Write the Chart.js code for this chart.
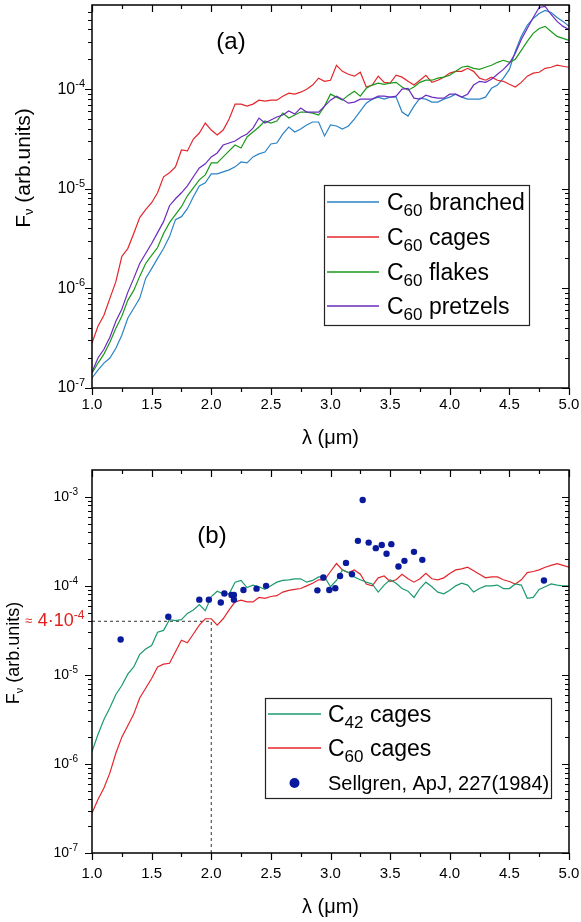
<!DOCTYPE html>
<html>
<head>
<meta charset="utf-8">
<title>Fv spectra</title>
<script src="https://cdn.jsdelivr.net/npm/chart.js@4.4.1/dist/chart.umd.min.js"></script>
<style>
  html, body { margin: 0; padding: 0; background: #fff; }
  #top { position: relative; width: 581px; height: 460px; }
  #bottom { position: relative; width: 581px; height: 462px; }
</style>
</head>
<body>
<div id="top"><canvas id="panelA"></canvas></div>
<div id="bottom"><canvas id="panelB"></canvas></div>
<script>
// wavelength grid (um)
var lam = [1.00,1.05,1.10,1.15,1.20,1.25,1.30,1.35,1.40,1.45,
  1.50,1.55,1.60,1.65,1.70,1.75,1.80,1.85,1.90,1.95,
  2.00,2.05,2.10,2.15,2.20,2.25,2.30,2.35,2.40,2.45,
  2.50,2.55,2.60,2.65,2.70,2.75,2.80,2.85,2.90,2.95,
  3.00,3.05,3.10,3.15,3.20,3.25,3.30,3.35,3.40,3.45,
  3.50,3.55,3.60,3.65,3.70,3.75,3.80,3.85,3.90,3.95,
  4.00,4.05,4.10,4.15,4.20,4.25,4.30,4.35,4.40,4.45,
  4.50,4.55,4.60,4.65,4.70,4.75,4.80,4.85,4.90,4.95,
  5.00];

// panel (a)
var branched = [1.26e-7,1.51e-7,1.78e-7,2.00e-7,2.51e-7,3.39e-7,5.01e-7,6.31e-7,7.94e-7,1.26e-6,
  1.58e-6,2.00e-6,2.51e-6,3.31e-6,4.90e-6,5.25e-6,6.31e-6,8.32e-6,1.07e-5,1.15e-5,
  1.41e-5,1.41e-5,1.48e-5,1.55e-5,1.66e-5,1.86e-5,1.82e-5,2.09e-5,2.24e-5,2.34e-5,
  2.82e-5,2.88e-5,3.55e-5,4.17e-5,3.72e-5,3.98e-5,4.37e-5,4.68e-5,4.68e-5,3.39e-5,
  4.37e-5,4.27e-5,3.98e-5,4.27e-5,5.01e-5,6.03e-5,7.24e-5,7.94e-5,8.32e-5,7.94e-5,
  8.32e-5,8.32e-5,5.89e-5,5.37e-5,6.76e-5,8.13e-5,7.94e-5,7.41e-5,7.41e-5,7.94e-5,
  8.32e-5,8.91e-5,8.32e-5,7.94e-5,7.94e-5,7.94e-5,8.32e-5,1.02e-4,1.10e-4,1.29e-4,
  1.58e-4,2.40e-4,3.39e-4,4.37e-4,5.13e-4,5.75e-4,6.17e-4,5.89e-4,5.25e-4,4.79e-4,
  4.27e-4];

var cagesA = [2.82e-7,4.17e-7,5.37e-7,7.94e-7,1.17e-6,2.09e-6,2.51e-6,3.55e-6,5.13e-6,6.17e-6,
  7.24e-6,9.12e-6,1.32e-5,1.45e-5,1.66e-5,2.45e-5,2.40e-5,3.16e-5,3.63e-5,4.57e-5,
  3.89e-5,3.47e-5,3.89e-5,5.01e-5,7.08e-5,7.08e-5,6.76e-5,7.08e-5,7.76e-5,7.59e-5,
  7.76e-5,7.76e-5,8.51e-5,9.12e-5,8.91e-5,9.33e-5,1.00e-4,1.10e-4,1.29e-4,1.20e-4,
  1.23e-4,1.74e-4,1.51e-4,1.41e-4,1.35e-4,1.48e-4,1.05e-4,1.10e-4,1.35e-4,1.17e-4,
  1.15e-4,1.38e-4,1.32e-4,1.20e-4,1.10e-4,1.23e-4,1.38e-4,1.17e-4,1.23e-4,1.32e-4,
  1.45e-4,1.51e-4,1.51e-4,1.62e-4,1.51e-4,1.29e-4,1.23e-4,1.32e-4,1.23e-4,1.20e-4,
  1.12e-4,1.05e-4,1.17e-4,1.35e-4,1.45e-4,1.48e-4,1.62e-4,1.66e-4,1.74e-4,1.70e-4,
  1.66e-4];

var flakes = [1.41e-7,1.78e-7,2.19e-7,2.88e-7,3.98e-7,5.25e-7,7.59e-7,9.55e-7,1.32e-6,1.78e-6,
  2.14e-6,2.57e-6,3.55e-6,4.57e-6,5.50e-6,6.61e-6,8.51e-6,1.02e-5,1.23e-5,1.38e-5,
  1.82e-5,1.82e-5,2.09e-5,2.40e-5,2.75e-5,2.57e-5,3.31e-5,3.72e-5,4.17e-5,4.79e-5,
  4.57e-5,4.79e-5,5.75e-5,5.13e-5,5.50e-5,5.89e-5,5.89e-5,5.75e-5,5.50e-5,6.76e-5,
  8.91e-5,8.32e-5,7.76e-5,8.71e-5,9.55e-5,8.51e-5,1.02e-4,1.10e-4,1.15e-4,1.12e-4,
  1.15e-4,1.17e-4,1.05e-4,9.77e-5,1.05e-4,1.17e-4,1.23e-4,1.23e-4,1.29e-4,1.32e-4,
  1.38e-4,1.51e-4,1.66e-4,1.70e-4,1.62e-4,1.58e-4,1.66e-4,1.74e-4,1.86e-4,1.95e-4,
  1.86e-4,2.00e-4,2.45e-4,3.02e-4,3.63e-4,4.07e-4,4.27e-4,3.80e-4,3.39e-4,3.24e-4,
  3.09e-4];

var pretzels = [1.45e-7,2.00e-7,2.45e-7,3.24e-7,4.68e-7,6.17e-7,9.12e-7,1.26e-6,1.78e-6,2.24e-6,
  2.82e-6,3.63e-6,4.68e-6,6.76e-6,7.94e-6,9.12e-6,1.07e-5,1.32e-5,1.62e-5,1.78e-5,
  2.09e-5,2.29e-5,2.75e-5,2.88e-5,3.02e-5,3.31e-5,3.55e-5,4.07e-5,5.13e-5,4.57e-5,
  4.90e-5,5.25e-5,5.50e-5,6.03e-5,5.62e-5,6.46e-5,5.89e-5,5.89e-5,5.89e-5,6.76e-5,
  7.76e-5,8.51e-5,7.94e-5,7.24e-5,7.41e-5,7.94e-5,7.94e-5,7.94e-5,8.51e-5,8.51e-5,
  8.32e-5,8.51e-5,1.00e-4,1.02e-4,8.13e-5,7.94e-5,8.71e-5,8.32e-5,8.13e-5,8.13e-5,
  8.91e-5,8.91e-5,8.32e-5,8.91e-5,1.10e-4,1.20e-4,1.17e-4,1.26e-4,1.41e-4,1.58e-4,
  1.82e-4,2.29e-4,3.16e-4,4.07e-4,5.25e-4,6.61e-4,6.76e-4,5.62e-4,4.79e-4,4.27e-4,
  3.98e-4];

// panel (b)
var c42cages = [1.38e-6,2.14e-6,3.16e-6,4.27e-6,6.03e-6,7.59e-6,1.02e-5,1.23e-5,1.70e-5,1.95e-5,
  2.14e-5,3.02e-5,3.16e-5,4.17e-5,4.07e-5,4.17e-5,4.90e-5,5.37e-5,6.17e-5,5.25e-5,
  7.59e-5,8.71e-5,8.13e-5,8.13e-5,1.10e-4,1.15e-4,9.55e-5,1.02e-4,9.77e-5,9.12e-5,
  1.00e-4,1.10e-4,1.15e-4,1.17e-4,1.20e-4,1.20e-4,1.10e-4,1.15e-4,1.26e-4,1.26e-4,
  9.77e-5,1.15e-4,1.51e-4,1.41e-4,1.26e-4,1.17e-4,1.10e-4,1.05e-4,8.51e-5,1.02e-4,
  1.17e-4,1.07e-4,9.33e-5,8.71e-5,7.41e-5,9.33e-5,1.10e-4,9.77e-5,8.51e-5,8.13e-5,
  8.91e-5,1.00e-4,1.07e-4,1.02e-4,8.51e-5,9.33e-5,1.00e-4,1.00e-4,1.02e-4,9.33e-5,
  9.33e-5,1.05e-4,1.02e-4,7.24e-5,7.41e-5,9.12e-5,9.77e-5,1.05e-4,1.02e-4,1.00e-4,
  1.00e-4];

var cagesB = [2.82e-7,3.98e-7,5.37e-7,7.94e-7,1.32e-6,2.00e-6,2.69e-6,3.63e-6,5.50e-6,7.08e-6,
  9.12e-6,1.23e-5,1.32e-5,1.35e-5,1.82e-5,2.45e-5,2.29e-5,2.88e-5,3.63e-5,4.27e-5,
  4.27e-5,3.63e-5,4.27e-5,5.37e-5,6.61e-5,6.92e-5,6.61e-5,6.61e-5,7.41e-5,7.24e-5,
  7.59e-5,7.76e-5,8.51e-5,8.91e-5,9.12e-5,9.33e-5,1.00e-4,1.07e-4,1.17e-4,1.17e-4,
  1.45e-4,1.78e-4,1.51e-4,1.41e-4,1.51e-4,1.35e-4,1.05e-4,1.00e-4,1.23e-4,1.29e-4,
  1.12e-4,1.17e-4,1.35e-4,1.20e-4,1.10e-4,1.20e-4,1.38e-4,1.20e-4,1.17e-4,1.23e-4,
  1.38e-4,1.51e-4,1.55e-4,1.62e-4,1.48e-4,1.35e-4,1.23e-4,1.26e-4,1.26e-4,1.17e-4,
  1.12e-4,1.05e-4,1.17e-4,1.41e-4,1.45e-4,1.51e-4,1.62e-4,1.70e-4,1.78e-4,1.70e-4,
  1.62e-4];

// Sellgren, ApJ 1984 points
var sellX = [1.24,1.64,1.90,1.98,2.08,2.11,2.17,2.19,2.19,2.27,2.38,2.46,
  2.89,2.94,2.99,3.04,3.08,3.13,3.18,3.23,3.27,3.32,3.38,3.43,3.47,3.51,
  3.57,3.62,3.70,3.77,4.79];
var sellY = [2.5e-5,4.5e-5,7.0e-5,7.0e-5,6.5e-5,8.2e-5,7.9e-5,7.9e-5,7.0e-5,9.0e-5,9.3e-5,1.0e-4,
  8.9e-5,1.24e-4,9.0e-5,9.4e-5,1.29e-4,1.81e-4,1.35e-4,3.2e-4,9.2e-4,3.06e-4,2.65e-4,2.88e-4,2.29e-4,2.94e-4,
  1.65e-4,1.91e-4,2.41e-4,1.96e-4,1.15e-4];

// dotted guide at 2 um / 4e-5
var guideX = [1.0, 2.0, 2.0];
var guideY = [4e-5, 4e-5, 1e-7];

// axis ticks
var xTickLabels = ['1.0','1.5','2.0','2.5','3.0','3.5','4.0','4.5','5.0'];
var xMinorTicks = [1.25,1.75,2.25,2.75,3.25,3.75,4.25,4.75];
var decadesA = [-7,-6,-5,-4];
var decadesB = [-7,-6,-5,-4,-3];

var FONT = '"Liberation Sans", Arial, Helvetica, sans-serif';

function pts(xv, yv) {
  return xv.map(function(x, i) { return {x: x, y: yv[i]}; });
}

function drawPow(ctx, exp, xRight, y, size, supSize) {
  ctx.font = supSize + 'px ' + FONT;
  var we = ctx.measureText(exp).width;
  ctx.font = size + 'px ' + FONT;
  var wm = ctx.measureText('10').width;
  ctx.textAlign = 'left';
  ctx.textBaseline = 'middle';
  ctx.fillText('10', xRight - we - wm, y);
  ctx.font = supSize + 'px ' + FONT;
  ctx.fillText(exp, xRight - we, y - size * 0.33);
}

// "C60 cages" -> C, subscript 60, rest
function drawSubLabel(ctx, text, x, y, size, subSize) {
  var m = text.match(/^C(\d+)(.*)$/);
  ctx.textAlign = 'left';
  ctx.textBaseline = 'alphabetic';
  var base = y + size * 0.36;
  if (!m) {
    ctx.font = subSize + 'px ' + FONT;
    ctx.fillText(text, x, y + subSize * 0.36);
    return;
  }
  ctx.font = size + 'px ' + FONT;
  ctx.fillText('C', x, base);
  x += ctx.measureText('C').width;
  ctx.font = subSize + 'px ' + FONT;
  ctx.fillText(m[1], x, base + subSize * 0.35);
  x += ctx.measureText(m[1]).width;
  ctx.font = size + 'px ' + FONT;
  ctx.fillText(m[2], x, base);
}

var frameAxes = {
  id: 'frameAxes',
  afterDraw: function(chart, args, o) {
    var ctx = chart.ctx, a = chart.chartArea;
    var xs = chart.scales.x, ys = chart.scales.y;
    ctx.save();
    ctx.strokeStyle = '#000';
    ctx.fillStyle = '#000';

    // ticks
    ctx.lineWidth = 1.2;
    ctx.beginPath();
    xMinorTicks.forEach(function(v) {
      var p = Math.round(xs.getPixelForValue(v)) + 0.5;
      ctx.moveTo(p, a.bottom); ctx.lineTo(p, a.bottom + 4);
      ctx.moveTo(p, a.top); ctx.lineTo(p, a.top + 4);
    });
    xTickLabels.forEach(function(t) {
      var p = Math.round(xs.getPixelForValue(parseFloat(t))) + 0.5;
      ctx.moveTo(p, a.bottom); ctx.lineTo(p, a.bottom + 7);
      ctx.moveTo(p, a.top); ctx.lineTo(p, a.top + 7);
    });
    o.decades.forEach(function(d) {
      var p = Math.round(ys.getPixelForValue(Math.pow(10, d))) + 0.5;
      ctx.moveTo(a.left - 7, p); ctx.lineTo(a.left, p);
      ctx.moveTo(a.right - 7, p); ctx.lineTo(a.right, p);
      for (var m = 2; m <= 9; m++) {
        var v = m * Math.pow(10, d);
        if (v >= ys.max) break;
        var q = Math.round(ys.getPixelForValue(v)) + 0.5;
        ctx.moveTo(a.left - 4, q); ctx.lineTo(a.left, q);
        ctx.moveTo(a.right - 4, q); ctx.lineTo(a.right, q);
      }
    });
    ctx.stroke();

    // frame
    ctx.lineWidth = 1.5;
    ctx.strokeRect(a.left, a.top, a.right - a.left, a.bottom - a.top);

    // tick labels
    ctx.font = '15px ' + FONT;
    ctx.textAlign = 'center';
    ctx.textBaseline = 'middle';
    xTickLabels.forEach(function(t) {
      ctx.fillText(t, xs.getPixelForValue(parseFloat(t)), o.xLabelY);
    });
    o.decades.forEach(function(d) {
      drawPow(ctx, String(d), o.labelRight, ys.getPixelForValue(Math.pow(10, d)), o.labelFont, o.supFont);
    });

    // axis titles
    ctx.font = '20px ' + FONT;
    ctx.textAlign = 'center';
    ctx.textBaseline = 'middle';
    ctx.fillText('\u03bb (\u03bcm)', (a.left + a.right) / 2, o.xTitleY);

    ctx.save();
    ctx.translate(o.yTitleX, o.yTitleY);
    ctx.rotate(-Math.PI / 2);
    var fs = o.yTitleFont, ss = Math.round(fs * 0.6);
    ctx.font = fs + 'px ' + FONT;
    var w1 = ctx.measureText('F').width, w3 = ctx.measureText(' (arb.units)').width;
    ctx.font = ss + 'px ' + FONT;
    var w2 = ctx.measureText('\u03bd').width;
    var x0 = -(w1 + w2 + w3) / 2;
    ctx.textAlign = 'left';
    ctx.textBaseline = 'alphabetic';
    var base = fs * 0.36;
    ctx.font = fs + 'px ' + FONT;
    ctx.fillText('F', x0, base);
    ctx.font = ss + 'px ' + FONT;
    ctx.fillText('\u03bd', x0 + w1, base + ss * 0.3);
    ctx.font = fs + 'px ' + FONT;
    ctx.fillText(' (arb.units)', x0 + w1 + w2, base);
    ctx.restore();

    // panel tag
    ctx.font = '24px ' + FONT;
    ctx.textAlign = 'center';
    ctx.textBaseline = 'middle';
    ctx.fillText(o.panel, o.panelX, o.panelY);

    // red marker label for the guide level
    if (o.mark) {
      var my = ys.getPixelForValue(o.mark.value);
      ctx.fillStyle = '#e0201c';
      ctx.textAlign = 'left';
      ctx.font = '13px ' + FONT;
      ctx.fillText('\u2248', o.mark.x, my);
      var mx = o.mark.x + ctx.measureText('\u2248 ').width + 2;
      ctx.font = '18px ' + FONT;
      ctx.fillText('4\u00b710', mx, my);
      mx += ctx.measureText('4\u00b710').width;
      ctx.font = '12px ' + FONT;
      ctx.fillText('-4', mx, my - 6);
    }

    // legend box
    var L = o.legend;
    ctx.fillStyle = '#fff';
    ctx.fillRect(L.left, L.top, L.width, L.height);
    ctx.lineWidth = 1.2;
    ctx.strokeStyle = '#222';
    ctx.strokeRect(L.left + 0.5, L.top + 0.5, L.width, L.height);
    chart.data.datasets.forEach(function(ds, i) {
      if (ds.hideInLegend) return;
      var ry = L.rowY[L.items.indexOf(i)];
      if (ds.showLine === false) {
        ctx.fillStyle = ds.backgroundColor;
        ctx.beginPath();
        ctx.arc((L.lineX0 + L.lineX1) / 2, ry, 5, 0, Math.PI * 2);
        ctx.fill();
      } else {
        ctx.strokeStyle = ds.borderColor;
        ctx.lineWidth = 1.5;
        ctx.beginPath();
        ctx.moveTo(L.lineX0, ry); ctx.lineTo(L.lineX1, ry);
        ctx.stroke();
      }
      ctx.fillStyle = '#000';
      drawSubLabel(ctx, ds.label, L.textX, ry, 23, ds.showLine === false ? 20 : 17);
    });
    ctx.restore();
  }
};

function lineSet(label, values, color, order) {
  return {
    label: label,
    data: pts(lam, values),
    borderColor: color,
    backgroundColor: color,
    borderWidth: 1.2,
    pointRadius: 0,
    tension: 0,
    order: order
  };
}

function scales(yMax) {
  return {
    x: { type: 'linear', min: 1, max: 5, display: false },
    y: { type: 'logarithmic', min: 1e-7, max: yMax, display: false }
  };
}

new Chart(document.getElementById('panelA'), {
  type: 'line',
  data: {
    datasets: [
      lineSet('C60 branched', branched, '#2b83c6', 4),
      lineSet('C60 cages', cagesA, '#e3262b', 3),
      lineSet('C60 flakes', flakes, '#1a9a1a', 2),
      lineSet('C60 pretzels', pretzels, '#6b2bbf', 1)
    ]
  },
  options: {
    responsive: true,
    maintainAspectRatio: false,
    animation: false,
    layout: { padding: { left: 92, right: 12, top: 5, bottom: 72 } },
    scales: scales(7e-4),
    plugins: {
      legend: { display: false },
      tooltip: { enabled: false },
      frameAxes: {
        decades: decadesA, labelFont: 16, supFont: 11, labelRight: 85,
        xLabelY: 405, xTitleY: 438,
        yTitleX: 22, yTitleY: 168, yTitleFont: 21,
        panel: '(a)', panelX: 231, panelY: 42,
        legend: { left: 324, top: 185, width: 205, height: 140,
          items: [0, 1, 2, 3], rowY: [202, 237, 272, 306],
          lineX0: 327, lineX1: 379, textX: 387 }
      }
    }
  },
  plugins: [frameAxes]
});

var sellSet = {
  type: 'scatter',
  label: 'Sellgren, ApJ, 227(1984)',
  data: pts(sellX, sellY),
  showLine: false,
  pointRadius: 3.2,
  pointBorderWidth: 0,
  backgroundColor: '#0a1a9c',
  borderColor: '#0a1a9c',
  order: 0
};

var guideSet = {
  label: 'guide',
  data: pts(guideX, guideY),
  borderColor: '#333',
  borderWidth: 1,
  borderDash: [3, 3],
  pointRadius: 0,
  tension: 0,
  hideInLegend: true,
  order: 5
};

new Chart(document.getElementById('panelB'), {
  type: 'line',
  data: {
    datasets: [
      lineSet('C42 cages', c42cages, '#1b9a6e', 2),
      lineSet('C60 cages', cagesB, '#e3262b', 3),
      sellSet,
      guideSet
    ]
  },
  options: {
    responsive: true,
    maintainAspectRatio: false,
    animation: false,
    layout: { padding: { left: 92, right: 12, top: 10, bottom: 69 } },
    scales: scales(2e-3),
    plugins: {
      legend: { display: false },
      tooltip: { enabled: false },
      frameAxes: {
        decades: decadesB, labelFont: 14, supFont: 10, labelRight: 78,
        xLabelY: 414, xTitleY: 447,
        yTitleX: 13, yTitleY: 193, yTitleFont: 18,
        panel: '(b)', panelX: 212, panelY: 76,
        mark: { value: 4e-5, x: 25 },
        legend: { left: 265, top: 238, width: 286, height: 100,
          items: [0, 1, 2], rowY: [254, 288, 323],
          lineX0: 268, lineX1: 321, textX: 328 }
      }
    }
  },
  plugins: [frameAxes]
});
</script>
</body>
</html>
